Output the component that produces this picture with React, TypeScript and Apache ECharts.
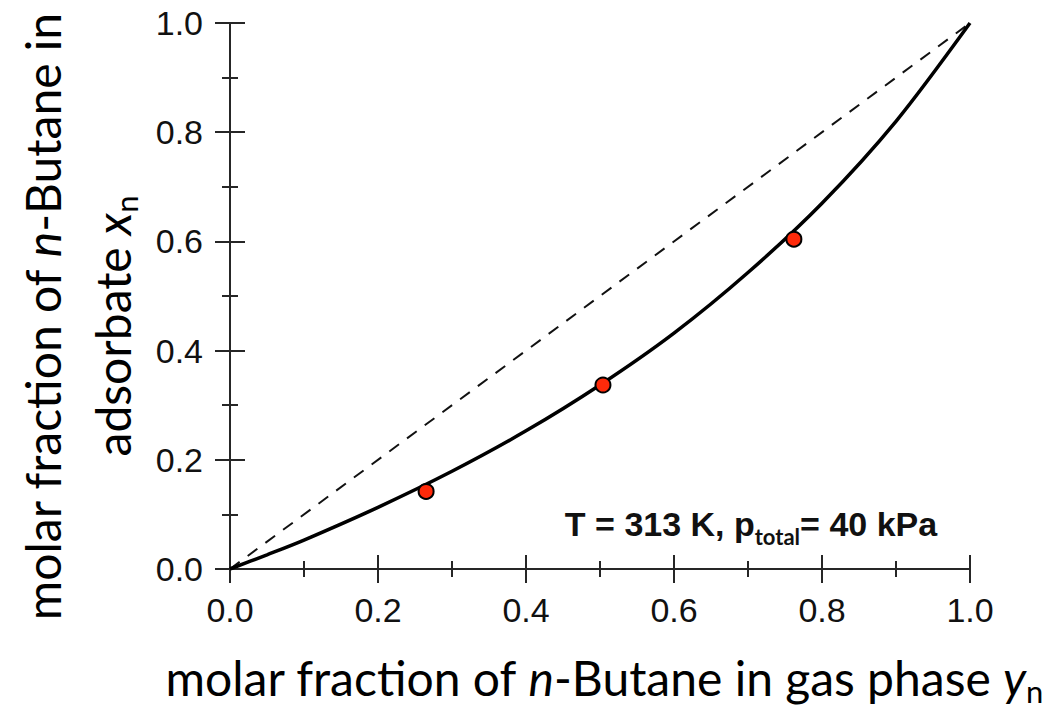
import React, { useEffect, useRef } from 'react';
import * as echarts from 'echarts';

// Fitted curve (gas phase y_n -> adsorbate x_n)
const curveGas = [0, 0.05, 0.1, 0.2, 0.3, 0.4, 0.5, 0.6, 0.7, 0.8, 0.9, 1.0];
const curveAds = [0, 0.026, 0.053, 0.113, 0.179, 0.253, 0.337, 0.432, 0.543, 0.67, 0.82, 1.0];
// Measured points
const pointGas = [0.265, 0.504, 0.762];
const pointAds = [0.142, 0.337, 0.604];
// Diagonal reference line
const diagGas = [0, 1];
const diagAds = [0, 1];

const axisColor = '#262626';

export default function App() {
  const ref = useRef<HTMLDivElement>(null);
  useEffect(() => {
    if (!ref.current) return;
    const chart = echarts.init(ref.current, null, { renderer: 'svg' });
    const lineStyle = { color: axisColor, width: 2 };
    const baseVal = { type: 'value', min: 0, max: 1, interval: 0.2, splitLine: { show: false } };
    const labelFmt = (v: number) => v.toFixed(1);
    const labelStyle = { fontFamily: 'Liberation Sans', fontSize: 34, color: '#111' };
    const titleR = { fontFamily: 'Lato', fontSize: 48, fill: '#000' };
    const titleI = { fontFamily: 'Lato', fontSize: 48, fontStyle: 'italic', fill: '#000' };
    const titleS = { fontFamily: 'Lato', fontSize: 31, fill: '#000', padding: [28, 0, 0, 0] };
    const option: any = {
      animation: false,
      backgroundColor: '#fff',
      grid: { left: 230, top: 23, right: 83, bottom: 145 },
      xAxis: [
        {
          ...baseVal, position: 'bottom',
          axisLine: { show: true, lineStyle },
          axisTick: { show: true, inside: false, length: 14, lineStyle },
          minorTick: { show: false },
          axisLabel: { ...labelStyle, margin: 24, formatter: labelFmt },
        },
        {
          ...baseVal, position: 'bottom',
          axisLine: { show: false },
          axisTick: { show: true, inside: true, length: 14, lineStyle },
          minorTick: { show: true, splitNumber: 2, length: 8, lineStyle },
          axisLabel: { show: false },
        },
        {
          ...baseVal, position: 'top',
          axisLine: { show: true, lineStyle },
          axisTick: { show: true, inside: true, length: 14, lineStyle },
          minorTick: { show: true, splitNumber: 2, length: 8, lineStyle },
          axisLabel: { show: false },
        },
      ],
      yAxis: [
        {
          ...baseVal, position: 'left',
          axisLine: { show: true, lineStyle },
          axisTick: { show: true, inside: false, length: 14, lineStyle },
          minorTick: { show: false },
          axisLabel: { ...labelStyle, margin: 27, formatter: labelFmt },
        },
        {
          ...baseVal, position: 'left',
          axisLine: { show: false },
          axisTick: { show: true, inside: true, length: 15, lineStyle },
          minorTick: { show: true, splitNumber: 2, length: 8, lineStyle },
          axisLabel: { show: false },
        },
        {
          ...baseVal, position: 'right',
          axisLine: { show: true, lineStyle },
          axisTick: { show: true, inside: true, length: 15, lineStyle },
          minorTick: { show: true, splitNumber: 2, length: 8, lineStyle },
          axisLabel: { show: false },
        },
      ],
      series: [
        {
          type: 'line', xAxisIndex: 0, yAxisIndex: 0,
          data: diagGas.map((g, i) => [g, diagAds[i]]),
          showSymbol: false, symbol: 'none',
          lineStyle: { color: '#111', width: 2, type: [12, 10] },
        },
        {
          type: 'line', xAxisIndex: 0, yAxisIndex: 0,
          data: curveGas.map((g, i) => [g, curveAds[i]]),
          smooth: 0.3, showSymbol: false, symbol: 'none',
          lineStyle: { color: '#000', width: 3.5 },
        },
        {
          type: 'scatter', xAxisIndex: 0, yAxisIndex: 0,
          data: pointGas.map((g, i) => [g, pointAds[i]]),
          symbol: 'circle', symbolSize: 15,
          itemStyle: { color: '#ff2a0a', borderColor: '#000', borderWidth: 2, opacity: 1 },
          z: 5,
        },
      ],
      graphic: [
        {
          type: 'text', x: 751, y: 524,
          style: {
            text: '{b|T = 313 K, p}{s|total}{b|= 40 kPa}',
            align: 'center', verticalAlign: 'middle',
            rich: {
              b: { fontFamily: 'Liberation Sans', fontWeight: 'bold', fontSize: 34, fill: '#111' },
              s: { fontFamily: 'Lato', fontWeight: 'bold', fontSize: 22, fill: '#111', padding: [24, 0, 0, 0] },
            },
          },
        },
        {
          type: 'text', x: 604, y: 677,
          style: {
            text: '{r|molar fraction of }{i|n}{r|-Butane in gas phase }{i|y}{s|n}',
            align: 'center', verticalAlign: 'middle',
            rich: { r: titleR, i: titleI, s: titleS },
          },
        },
        {
          type: 'text', x: 42, y: 317, rotation: Math.PI / 2,
          style: {
            text: '{r|molar fraction of }{i|n}{r|-Butane in}',
            align: 'center', verticalAlign: 'middle',
            rich: { r: titleR, i: titleI },
          },
        },
        {
          type: 'text', x: 112, y: 326, rotation: Math.PI / 2,
          style: {
            text: '{r|adsorbate }{i|x}{s|n}',
            align: 'center', verticalAlign: 'middle',
            rich: { r: titleR, i: titleI, s: titleS },
          },
        },
      ],
    };
    chart.setOption(option);
    return () => chart.dispose();
  }, []);
  return (
    <div
      ref={ref}
      style={{ position: 'fixed', left: 0, top: 0, width: 1053, height: 714 }}
    />
  );
}
